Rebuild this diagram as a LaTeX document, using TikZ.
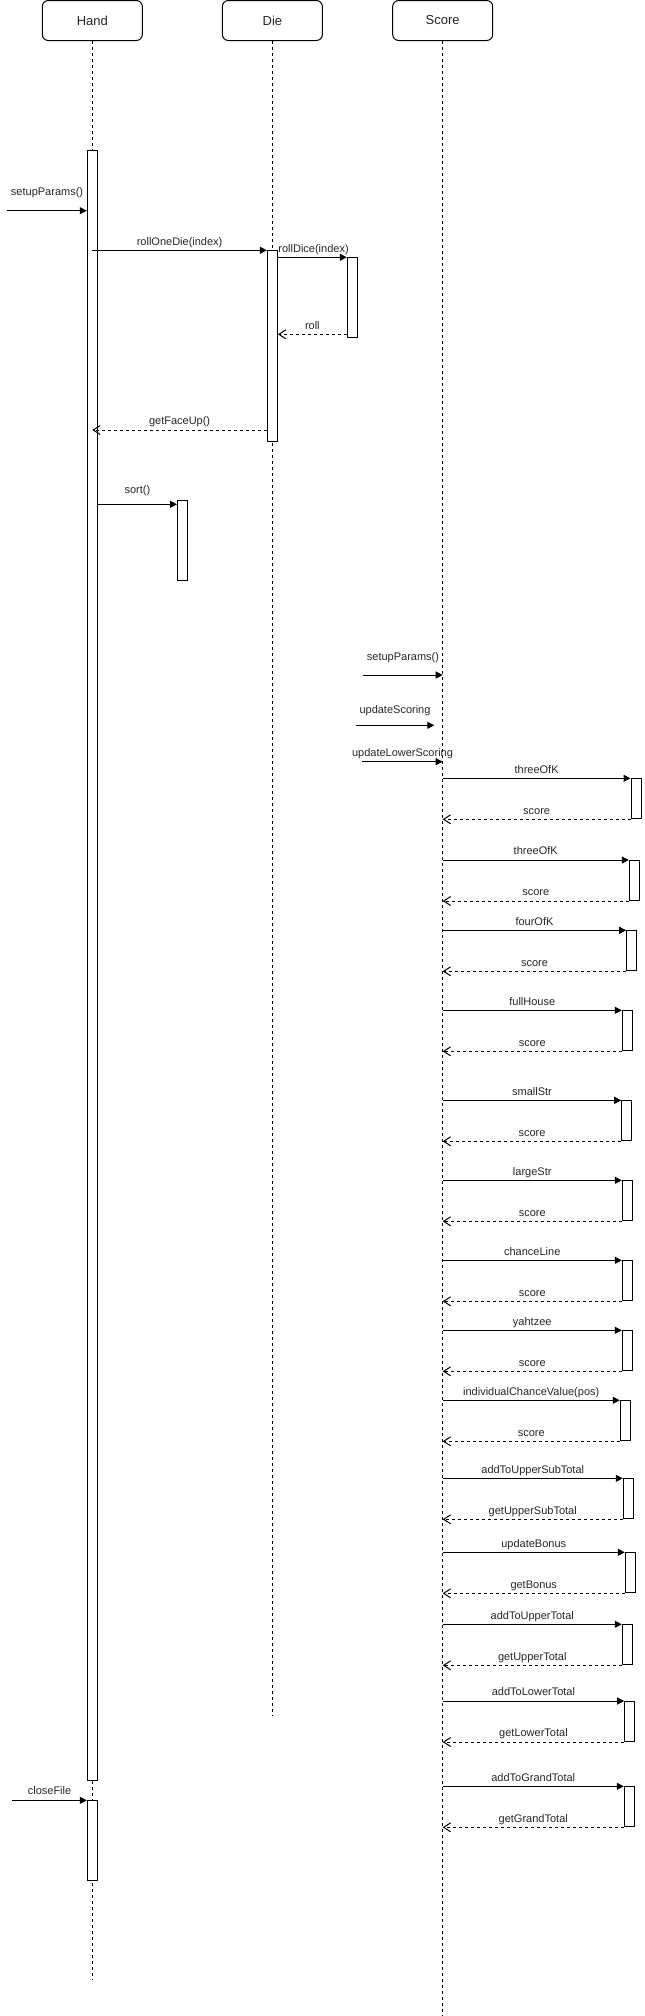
\documentclass[tikz,border=0pt]{standalone}
\usepackage{fontspec}
\setmainfont{Liberation Sans}
\usetikzlibrary{arrows.meta}

\begin{document}
\begin{tikzpicture}[x=1pt, y=-1pt, line width=1pt]
\tikzset{lifebox/.style={draw, rounded corners=6pt, minimum width=100pt, minimum height=40pt, text=black!85, font=\fontsize{13}{15}\selectfont}}
\tikzset{lifeline/.style={dash pattern=on 3pt off 3pt}}
\tikzset{actbar/.style={draw, fill=white, anchor=north, minimum width=10pt, inner sep=0pt}}
\tikzset{call/.style={-{Triangle[length=7pt, width=7pt]}}}
\tikzset{reply/.style={dash pattern=on 3pt off 3pt, -{Straight Barb[length=7pt, width=9pt]}}}
\tikzset{msg/.style={font=\fontsize{11}{13}\selectfont, text=black!85, text height=8pt, text depth=2.5pt, inner sep=0pt, midway}}
\useasboundingbox (0,0) rectangle (645,2016);

\node[lifebox] (hand) at (92.3,20.5) {Hand};
\node[lifebox] (die) at (272.4,20.5) {Die};
\node[lifebox] (score) at (442.7,20.5) {Score};
\coordinate (handend) at (92.3,1980);
\coordinate (dieend) at (272.4,1716);
\coordinate (scoreend) at (442.7,2016);
\draw[lifeline] (hand) -- (handend);
\draw[lifeline] (die) -- (dieend);
\draw[lifeline] (score) -- (scoreend);

\node[actbar, minimum height=1630pt] (handbar) at (92.3,150.3) {};
\node[actbar, minimum height=80pt] (closebar) at (92.3,1800.3) {};
\node[actbar, minimum height=190.7pt] (diebar) at (272.4,250.3) {};
\node[actbar, minimum height=80pt] (rollbar) at (352.3,257.3) {};
\node[actbar, minimum height=80pt] (sortbar) at (182.5,500.3) {};

\coordinate (setupin) at (7.3,210.7);
\draw[call] (setupin) -- (setupin -| handbar.west) node[msg, yshift=17.7pt] {setupParams()};
\draw[call] (handbar.center |- diebar.north) -- (diebar.north west) node[msg, yshift=8pt] {rollOneDie(index)};
\draw[call] (diebar.east |- rollbar.north) -- (rollbar.north west) node[msg, pos=0, anchor=west, yshift=8pt] {rollDice(index)};
\coordinate (rollret) at ([yshift=4pt]rollbar.south west);
\draw[reply] (rollret) -- (rollret -| diebar.east) node[msg, yshift=8pt] {roll};
\coordinate (faceret) at ([yshift=12pt]diebar.south west);
\draw[reply] (faceret) -- (faceret -| handbar.center) node[msg, yshift=8pt] {getFaceUp()};
\coordinate (sortin) at ([yshift=-4pt]sortbar.north west);
\draw[call] (sortin -| handbar.east) -- (sortin) node[msg, yshift=14pt] {sort()};

\coordinate (setupscore) at (363.3,675);
\draw[call] (setupscore) -- (setupscore -| score.south) node[msg, yshift=17.3pt] {setupParams()};
\coordinate (updscore) at (355.7,725.3);
\coordinate (updscoreend) at (434.3,725.3);
\draw[call] (updscore) -- (updscoreend) node[msg, yshift=14.3pt] {updateScoring};
\coordinate (lowscore) at (362.3,761.7);
\draw[call] (lowscore) -- (lowscore -| score.south) node[msg, yshift=8pt] {updateLowerScoring};

\foreach \y/\bx/\callname/\retname [count=\i] in {778.3/631/threeOfK/score, 860/629.3/threeOfK/score, 930.3/626.7/fourOfK/score, 1010.3/622.3/fullHouse/score, 1100.3/621.7/smallStr/score, 1180.3/622.3/largeStr/score, 1260.3/622.3/chanceLine/score, 1330.3/622.3/yahtzee/score, 1400.3/620.3/individualChanceValue(pos)/score, 1478.3/623.3/addToUpperSubTotal/getUpperSubTotal, 1552.3/625.3/updateBonus/getBonus, 1624.3/622.3/addToUpperTotal/getUpperTotal, 1701/624.7/addToLowerTotal/getLowerTotal, 1786.3/624.3/addToGrandTotal/getGrandTotal} {
  \node[actbar, minimum height=40pt] (calc\i) at (\bx+5,\y) {};
  \coordinate (sc\i) at (score.south |- calc\i.north);
  \draw[call] (sc\i) -- (calc\i.north west) node[msg, yshift=8pt] {\callname};
  \draw[reply] (calc\i.south west) -- (sc\i |- calc\i.south) node[msg, yshift=8pt] {\retname};
}

\coordinate (closein) at (12.3,1800.3);
\draw[call] (closein) -- (closein -| closebar.west) node[msg, yshift=8.3pt] {closeFile};
\end{tikzpicture}
\end{document}
